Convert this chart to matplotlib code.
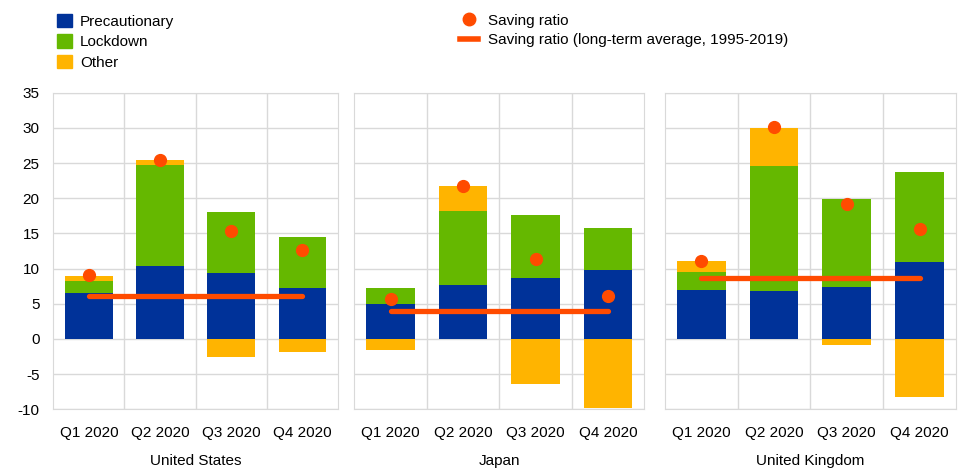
import numpy as np
import matplotlib.pyplot as plt
from matplotlib.patches import Patch
from matplotlib.lines import Line2D

plt.rcParams['font.family'] = ['Liberation Sans', 'DejaVu Sans']
plt.rcParams['font.size'] = 11
plt.rcParams['axes.unicode_minus'] = False

quarters = ['Q1 2020', 'Q2 2020', 'Q3 2020', 'Q4 2020']
countries = ['United States', 'Japan', 'United Kingdom']

# contributions to the saving ratio, by country
precautionary = {
    'United States': [6.5, 10.4, 9.4, 7.3],
    'Japan': [5.0, 7.7, 8.7, 9.8],
    'United Kingdom': [7.0, 6.8, 7.4, 11.0],
}
lockdown = {
    'United States': [1.7, 14.3, 8.6, 7.2],
    'Japan': [2.2, 10.5, 8.9, 6.0],
    'United Kingdom': [2.5, 17.8, 12.5, 12.8],
}
other = {
    'United States': [0.8, 0.7, -2.6, -1.9],
    'Japan': [-1.6, 3.5, -6.4, -9.8],
    'United Kingdom': [1.6, 5.4, -0.8, -8.2],
}
saving_ratio = {
    'United States': [9.1, 25.4, 15.3, 12.6],
    'Japan': [5.7, 21.8, 11.3, 6.1],
    'United Kingdom': [11.1, 30.1, 19.2, 15.6],
}
long_term_avg = {
    'United States': 6.1,
    'Japan': 4.0,
    'United Kingdom': 8.6,
}

c_blue = '#003299'
c_green = '#65b800'
c_orange = '#ffb400'
c_red = '#ff4b00'
c_grid = '#d9d9d9'

fig = plt.figure(figsize=(9.6, 4.69), dpi=100)

panel_pos = [
    [0.0555, 0.1273, 0.2966, 0.675],
    [0.3691, 0.1273, 0.3021, 0.675],
    [0.6924, 0.1273, 0.3034, 0.675],
]

x = np.arange(len(quarters))
w = 0.67

for i, c in enumerate(countries):
    ax = fig.add_axes(panel_pos[i])
    p = np.array(precautionary[c])
    l = np.array(lockdown[c])
    o = np.array(other[c])
    ax.bar(x, p, w, color=c_blue, zorder=2)
    ax.bar(x, l, w, bottom=p, color=c_green, zorder=2)
    o_bottom = np.where(o > 0, p + l, 0)
    ax.bar(x, o, w, bottom=o_bottom, color=c_orange, zorder=2)
    ax.plot([x[0], x[-1]], [long_term_avg[c]] * 2, color=c_red, lw=3.8,
            solid_capstyle='round', zorder=3)
    ax.plot(x, saving_ratio[c], 'o', color=c_red, ms=8.5, zorder=4)

    ax.set_xlim(-0.5, 3.5)
    ax.set_ylim(-10, 35)
    ax.set_yticks(np.arange(-10, 36, 5))
    ax.set_xticks(x)
    ax.set_xticklabels(quarters)
    ax.set_xticks([0.5, 1.5, 2.5], minor=True)
    ax.grid(axis='y', color=c_grid, lw=1, zorder=0)
    ax.grid(axis='x', which='minor', color=c_grid, lw=1, zorder=0)
    ax.tick_params(axis='both', which='both', length=0, labelsize=11, colors='black')
    ax.tick_params(axis='x', pad=12)
    ax.tick_params(axis='y', pad=10)
    if i > 0:
        ax.set_yticklabels([])
    for s in ax.spines.values():
        s.set_color(c_grid)
    ax.set_xlabel(c, fontsize=11, labelpad=10)

# legends
h1 = [Patch(color=c_blue, label='Precautionary'),
      Patch(color=c_green, label='Lockdown'),
      Patch(color=c_orange, label='Other')]
fig.legend(handles=h1, loc='upper left', bbox_to_anchor=(0.045, 1.0),
           frameon=False, fontsize=11, handlelength=1.0, handleheight=1.0,
           handletextpad=0.5, labelspacing=0.35)
h2 = [Line2D([], [], color=c_red, marker='o', ls='none', ms=9, label='Saving ratio'),
      Line2D([], [], color=c_red, lw=4, label='Saving ratio (long-term average, 1995-2019)')]
fig.legend(handles=h2, loc='upper left', bbox_to_anchor=(0.465, 1.0),
           frameon=False, fontsize=11, handlelength=1.2,
           handletextpad=0.6, labelspacing=0.35)

fig.savefig('out.png', dpi=100)
